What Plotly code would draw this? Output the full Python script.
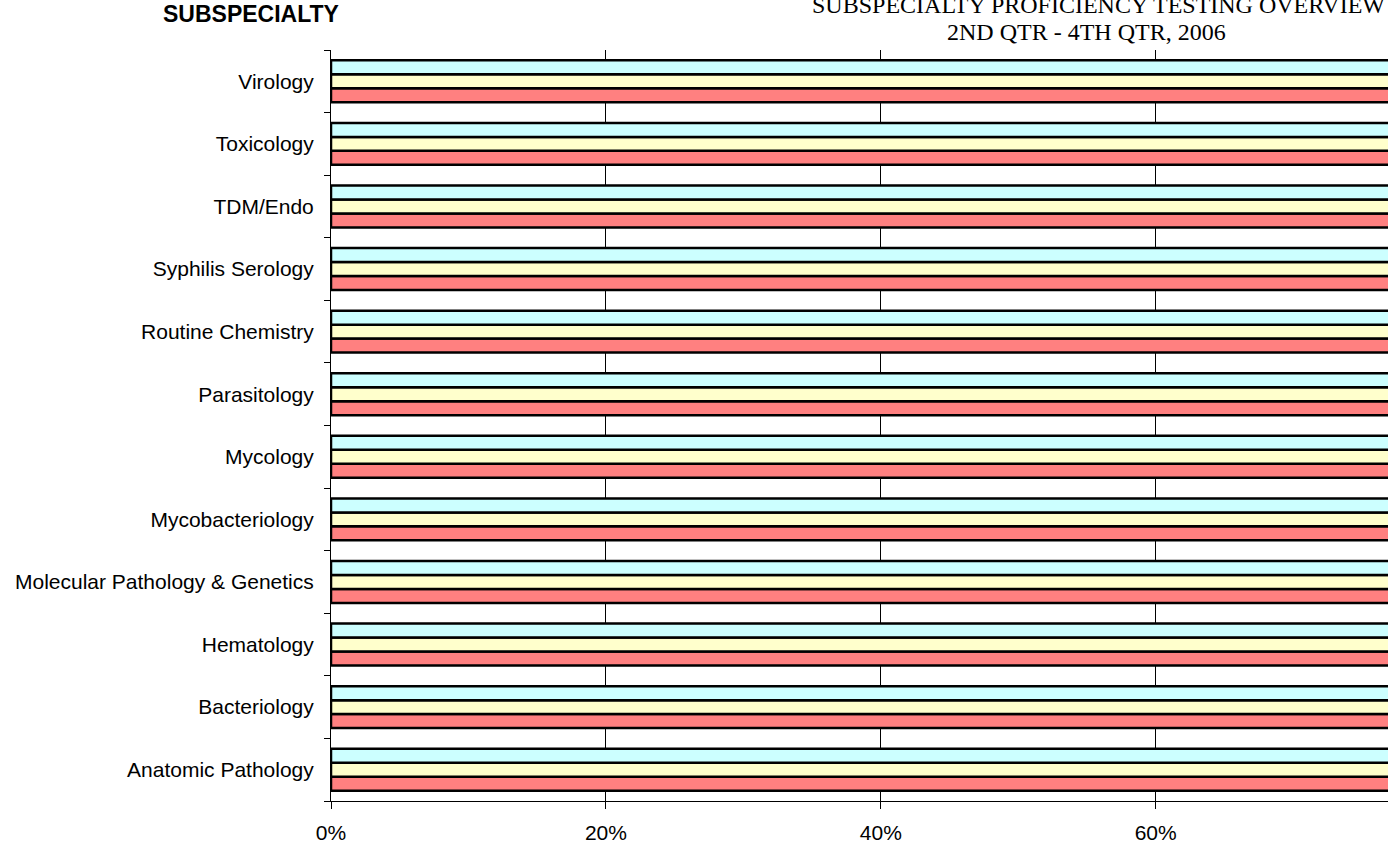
import plotly.graph_objects as go

categories = ["Anatomic Pathology", "Bacteriology", "Hematology",
              "Molecular Pathology & Genetics", "Mycobacteriology", "Mycology",
              "Parasitology", "Routine Chemistry", "Syphilis Serology",
              "TDM/Endo", "Toxicology", "Virology"]
series_names = ["2nd Qtr", "3rd Qtr", "4th Qtr"]
q2 = [1.0] * 12
q3 = [1.0] * 12
q4 = [1.0] * 12
series_values = [q2, q3, q4]
colors = ["#FF8080", "#FFFFCC", "#CCFFFF"]
tick_vals = [0, 0.2, 0.4, 0.6]
tick_text = ["0%", "20%", "40%", "60%"]

W, H = 1388, 848
L, R, T, B = 331, 0, 50, 47
PW, PH = W - L - R, H - T - B

fig = go.Figure()
for name, vals, col in zip(series_names, series_values, colors):
    fig.add_trace(go.Bar(y=categories, x=vals, name=name, orientation="h",
                         marker=dict(color=col, line=dict(color="black", width=2.5))))

fig.update_layout(
    width=W, height=H,
    margin=dict(l=L, r=R, t=T, b=B, pad=0),
    barmode="group", bargap=0.33, bargroupgap=0,
    plot_bgcolor="white", paper_bgcolor="white",
    showlegend=False,
    font=dict(family="Liberation Sans, Arial", size=21, color="black"),
)
fig.update_xaxes(range=[0, 0.769], tickvals=tick_vals, ticktext=tick_text,
                 showgrid=True, gridcolor="black", gridwidth=1,
                 ticks="outside", ticklen=7, tickcolor="black",
                 showline=True, linecolor="black", linewidth=1,
                 zeroline=False, tickfont=dict(size=21), ticklabelstandoff=6)
fig.update_yaxes(type="category", categoryorder="array", categoryarray=categories,
                 showgrid=False, ticks="outside", tickson="boundaries",
                 ticklen=6, tickcolor="black",
                 showline=True, linecolor="black", linewidth=1,
                 tickfont=dict(size=21), ticklabelstandoff=12)

def px(x):
    return (x - L) / PW

def py(y):
    return 1 + (T - y) / PH

fig.add_annotation(text="<b>SUBSPECIALTY</b>", xref="paper", yref="paper",
                   x=px(251), y=py(14),
                   xanchor="center", yanchor="middle", showarrow=False,
                   font=dict(family="Liberation Sans, Arial", size=23))
fig.add_annotation(text="SUBSPECIALTY PROFICIENCY TESTING OVERVIEW", xref="paper", yref="paper",
                   x=px(1098), y=py(5),
                   xanchor="center", yanchor="middle", showarrow=False,
                   font=dict(family="Liberation Serif, Times New Roman", size=24))
fig.add_annotation(text="2ND QTR - 4TH QTR, 2006", xref="paper", yref="paper",
                   x=px(1086), y=py(32),
                   xanchor="center", yanchor="middle", showarrow=False,
                   font=dict(family="Liberation Serif, Times New Roman", size=24))

fig.write_html("out.html", config={"displayModeBar": False},
               post_script="document.body.style.margin='0';document.body.style.overflow='hidden';")
